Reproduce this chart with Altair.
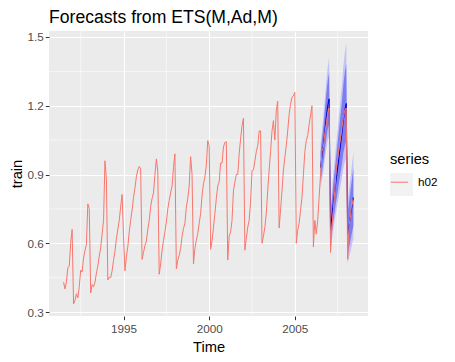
import altair as alt
import pandas as pd

# ---------------- data ----------------
start_year = 1991
start_month = 7  # July 1991

h02_values = [
    # 1991 Jul-Dec
    0.430, 0.401, 0.432, 0.493, 0.502, 0.603,
    # 1992
    0.660, 0.336, 0.351, 0.380, 0.362, 0.411, 0.483, 0.475, 0.535, 0.569, 0.595, 0.772,
    # 1993
    0.752, 0.384, 0.420, 0.410, 0.430, 0.470, 0.500, 0.545, 0.580, 0.640, 0.700, 0.960,
    # 1994
    0.880, 0.440, 0.452, 0.450, 0.480, 0.525, 0.565, 0.620, 0.660, 0.700, 0.760, 0.813,
    # 1995
    0.635, 0.480, 0.540, 0.585, 0.650, 0.700, 0.745, 0.800, 0.840, 0.890, 0.920, 0.935,
    # 1996
    0.925, 0.530, 0.560, 0.590, 0.610, 0.660, 0.700, 0.760, 0.795, 0.820, 0.900, 0.968,
    # 1997
    0.915, 0.465, 0.510, 0.570, 0.613, 0.650, 0.693, 0.750, 0.787, 0.820, 0.850, 0.930,
    # 1998
    0.990, 0.488, 0.526, 0.548, 0.578, 0.630, 0.665, 0.687, 0.758, 0.795, 0.850, 0.978,
    # 1999
    0.900, 0.510, 0.578, 0.613, 0.643, 0.687, 0.730, 0.808, 0.860, 0.889, 0.940, 1.048,
    # 2000
    1.026, 0.574, 0.610, 0.670, 0.730, 0.795, 0.850, 0.867, 0.950, 0.950, 1.020, 1.040,
    # 2001
    1.043, 0.527, 0.630, 0.650, 0.700, 0.830, 0.867, 0.900, 0.900, 0.990, 1.055, 1.113,
    # 2002
    1.145, 0.570, 0.620, 0.670, 0.700, 0.780, 0.917, 0.920, 0.960, 1.000, 1.026, 1.090,
    # 2003
    1.090, 0.600, 0.630, 0.670, 0.730, 0.830, 0.920, 1.000, 1.090, 1.135, 1.050, 1.180,
    # 2004
    1.220, 0.667, 0.745, 0.830, 0.920, 0.975, 1.026, 1.090, 1.163, 1.207, 1.237, 1.243,
    # 2005
    1.258, 0.600, 0.657, 0.687, 0.745, 0.800, 0.900, 1.000, 1.048, 1.070, 1.117, 1.160,
    # 2006
    1.200, 0.584, 0.700, 0.640, 0.700, 0.800, 0.900, 1.000, 1.020, 1.080, 1.120, 1.165,
    # 2007
    1.190, 0.560, 0.670, 0.750, 0.830, 0.930, 0.970, 1.020, 1.060, 1.105, 1.150, 1.180,
    # 2008 Jan-Jun
    1.190, 0.530, 0.680, 0.720, 0.790, 0.760,
]

# forecast: Jul 2006 - Jun 2008
fc_start_year = 2006
fc_start_month = 7
fc_mean = [0.930, 0.980, 1.030, 1.090, 1.150, 1.200, 1.230, 0.660, 0.720, 0.780, 0.830, 0.880,
           0.930, 0.980, 1.030, 1.080, 1.140, 1.180, 1.210, 0.640, 0.680, 0.720, 0.760, 0.800]
fc_lo80 = [0.868, 0.911, 0.954, 1.005, 1.056, 1.097, 1.120, 0.599, 0.650, 0.701, 0.743, 0.785,
           0.826, 0.866, 0.907, 0.947, 0.995, 1.025, 1.047, 0.551, 0.583, 0.615, 0.646, 0.677]
fc_hi80 = [0.995, 1.053, 1.110, 1.179, 1.249, 1.308, 1.346, 0.725, 0.793, 0.863, 0.921, 0.980,
           1.040, 1.100, 1.160, 1.220, 1.293, 1.343, 1.382, 0.733, 0.782, 0.831, 0.880, 0.930]
fc_lo95 = [0.838, 0.878, 0.917, 0.964, 1.011, 1.049, 1.068, 0.570, 0.618, 0.665, 0.703, 0.741,
           0.778, 0.814, 0.850, 0.886, 0.929, 0.955, 0.973, 0.511, 0.539, 0.567, 0.594, 0.621]
fc_hi95 = [1.032, 1.094, 1.156, 1.230, 1.304, 1.368, 1.410, 0.760, 0.834, 0.908, 0.971, 1.035,
           1.099, 1.164, 1.230, 1.296, 1.375, 1.430, 1.474, 0.783, 0.836, 0.890, 0.944, 0.998]

x_ticks = [1995, 2000, 2005]
x_minor = [1992.5, 1997.5, 2002.5, 2007.5]
y_ticks = [0.3, 0.6, 0.9, 1.2, 1.5]
y_minor = [0.45, 0.75, 1.05, 1.35]

# ---------------- tables ----------------
df = pd.DataFrame({
    "t": [start_year + (start_month - 1 + i) / 12 for i in range(len(h02_values))],
    "value": h02_values,
    "series": ["h02"] * len(h02_values),
})
fc = pd.DataFrame({
    "t": [fc_start_year + (fc_start_month - 1 + i) / 12 for i in range(len(fc_mean))],
    "mean": fc_mean, "lo80": fc_lo80, "hi80": fc_hi80, "lo95": fc_lo95, "hi95": fc_hi95,
})
xmin_df = pd.DataFrame({"t": x_minor})
ymin_df = pd.DataFrame({"v": y_minor})

FONT = "Liberation Sans"
xscale = alt.Scale(domain=[1990.65, 2009.27], nice=False, zero=False)
yscale = alt.Scale(domain=[0.283, 1.526], nice=False, zero=False)

xaxis = alt.Axis(values=x_ticks, format="d", title="Time", grid=True)
yaxis = alt.Axis(values=y_ticks, format=".1f", title="train", grid=True)

minor_x = alt.Chart(xmin_df).mark_rule(color="white", strokeWidth=0.55).encode(
    x=alt.X("t:Q", scale=xscale, axis=xaxis, title="Time"))
minor_y = alt.Chart(ymin_df).mark_rule(color="white", strokeWidth=0.55).encode(
    y=alt.Y("v:Q", scale=yscale, axis=yaxis, title="train"))

band95 = alt.Chart(fc).mark_area(color="#C2C2F8", opacity=1).encode(
    x=alt.X("t:Q", scale=xscale, axis=xaxis, title="Time"),
    y=alt.Y("lo95:Q", scale=yscale, axis=yaxis, title="train"),
    y2="hi95:Q")
band80 = alt.Chart(fc).mark_area(color="#7C7CF3", opacity=1).encode(
    x=alt.X("t:Q", scale=xscale, axis=xaxis, title="Time"),
    y=alt.Y("lo80:Q", scale=yscale, axis=yaxis, title="train"),
    y2="hi80:Q")
mean_line = alt.Chart(fc).mark_line(color="#0000CC", strokeWidth=1).encode(
    x=alt.X("t:Q", scale=xscale, axis=xaxis, title="Time"),
    y=alt.Y("mean:Q", scale=yscale, axis=yaxis, title="train"))

key_bg = alt.Chart(pd.DataFrame({"k": [0]})).mark_rect(color="#F2F2F2").encode(
    x=alt.value(341), x2=alt.value(364), y=alt.value(142), y2=alt.value(165))

red_line = alt.Chart(df).mark_line(strokeWidth=1).encode(
    x=alt.X("t:Q", scale=xscale, axis=xaxis, title="Time"),
    y=alt.Y("value:Q", scale=yscale, axis=yaxis, title="train"),
    color=alt.Color("series:N",
                    scale=alt.Scale(domain=["h02"], range=["#F8766D"]),
                    legend=alt.Legend(title="series", orient="none",
                                      legendX=341, legendY=121,
                                      symbolType="stroke", symbolSize=300,
                                      symbolStrokeWidth=1,
                                      labelFontSize=11.7, titleFontSize=14.7,
                                      titleFontWeight="normal", titleColor="black",
                                      labelColor="black", labelFont=FONT, titleFont=FONT,
                                      labelOffset=9, titlePadding=6)))

chart = alt.layer(minor_x, minor_y, band95, band80, mean_line, key_bg, red_line).properties(
    width=319, height=285,
    autosize=alt.AutoSizeParams(type="none"),
    padding={"left": 41, "top": 23, "right": 79, "bottom": 38},
    title=alt.TitleParams("Forecasts from ETS(M,Ad,M)", anchor="start", frame="group",
                          fontSize=17.6, font=FONT, fontWeight="normal", color="black",
                          offset=4),
).configure_view(fill="#EBEBEB", stroke=None).configure_axis(
    labelFont=FONT, labelFontSize=11.7, labelColor="#4D4D4D",
    titleFont=FONT, titleFontSize=14.7, titleFontWeight="normal", titleColor="black",
    tickColor="#333333", tickSize=3.7, tickWidth=1,
    domain=False, gridColor="white", gridWidth=1.1,
).configure_axisX(labelPadding=4, titlePadding=4).configure_axisY(labelPadding=2, titlePadding=3)

chart.save("out.html", embed_options={"renderer": "svg", "actions": False})
